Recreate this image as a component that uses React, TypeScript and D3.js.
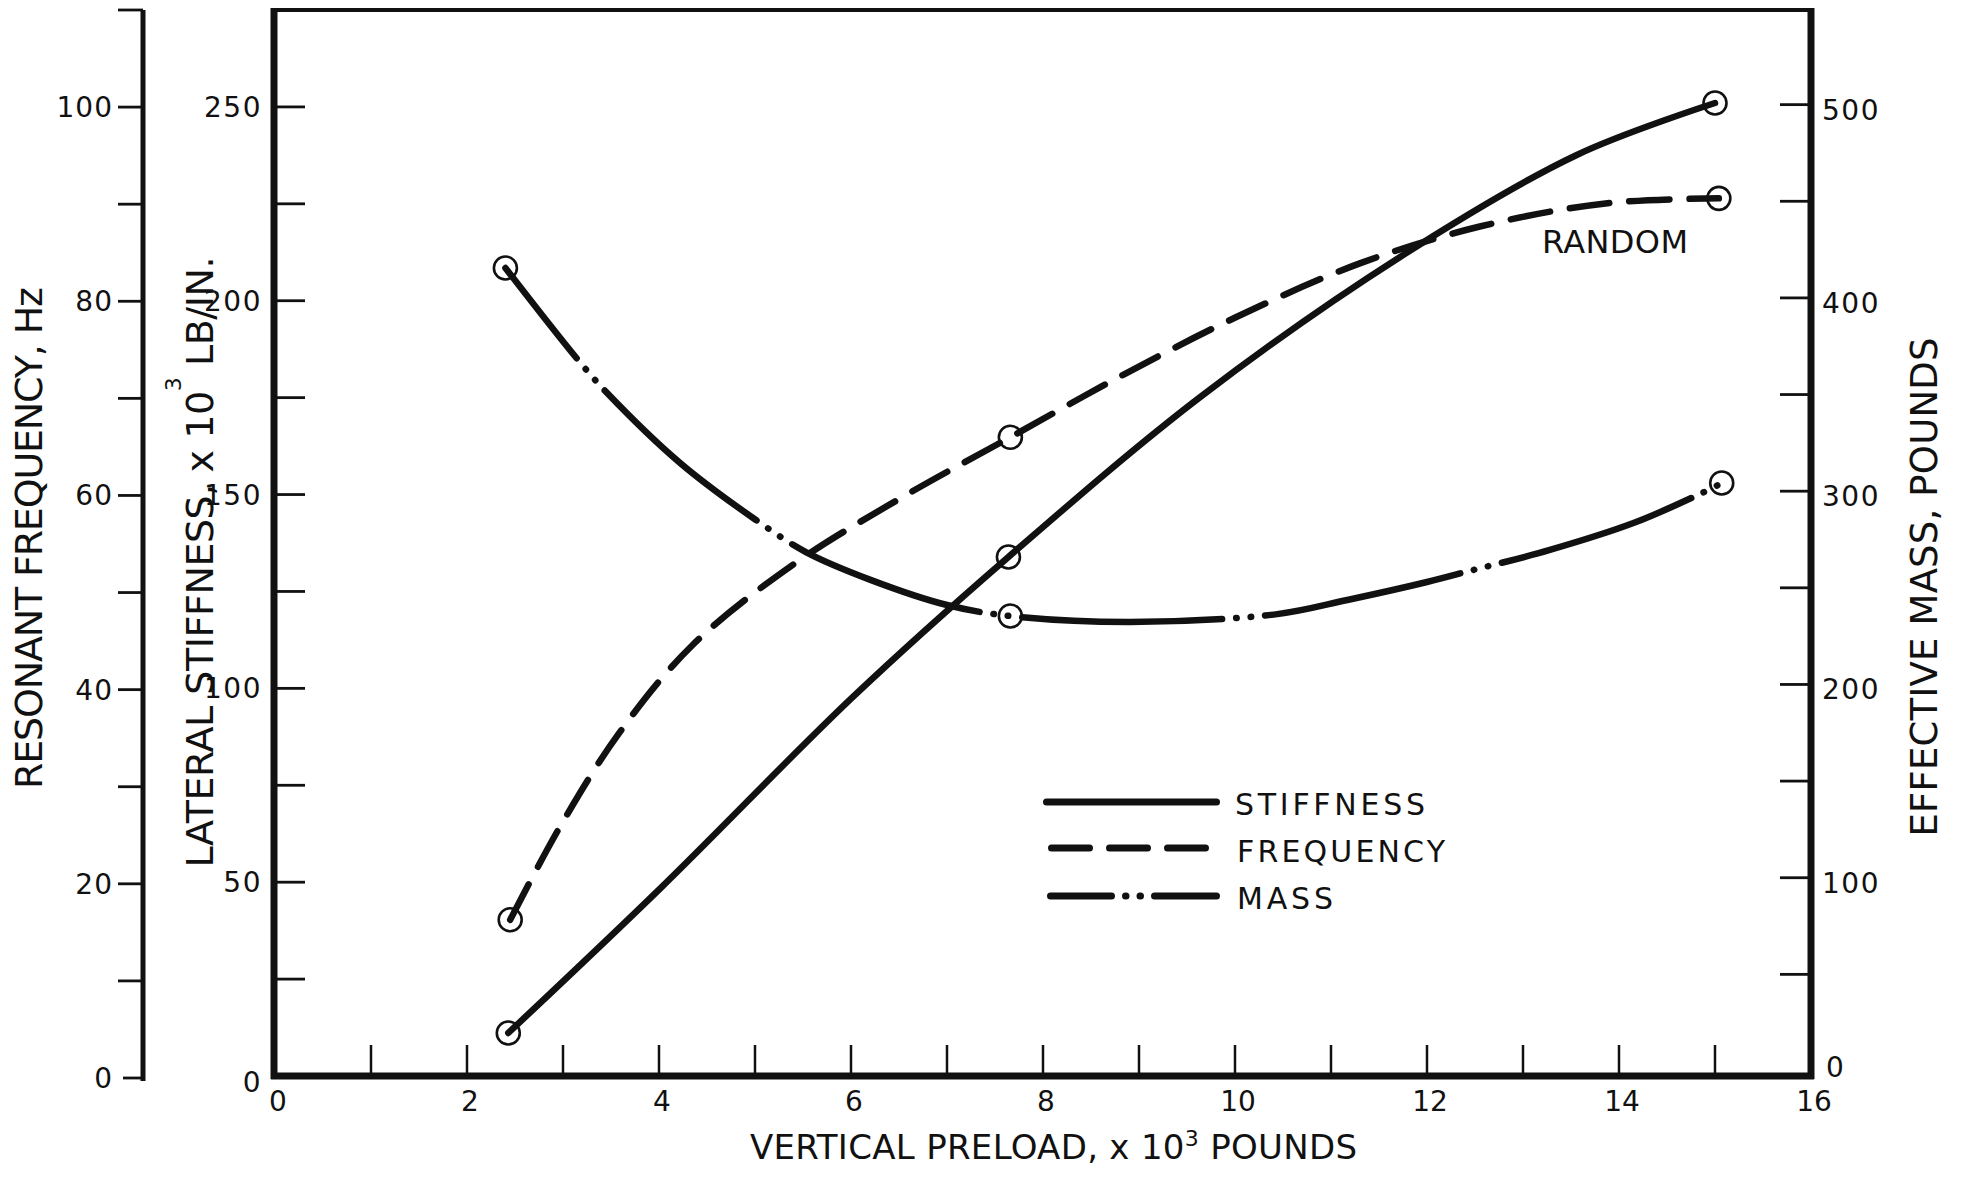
import React from "react";
import * as d3 from "d3";

// ---- data (preload in 10^3 lb) ----
// Measured test points (circled)
const stiffnessPoints = [
  { preload: 2.43, value: 11.1 },
  { preload: 7.64, value: 133.9 },
  { preload: 15.0, value: 251.0 },
];
const frequencyPoints = [
  { preload: 2.45, value: 16.3 },
  { preload: 7.66, value: 66.0 },
  { preload: 15.04, value: 90.6 },
];
const massPoints = [
  { preload: 2.4, value: 415.5 },
  { preload: 7.66, value: 235.4 },
  { preload: 15.07, value: 304.2 },
];

// Faired curves through the test points
const stiffnessCurve = [
  { preload: 2.43, value: 11.1 },
  { preload: 4.03, value: 48.8 },
  { preload: 6.02, value: 97.8 },
  { preload: 7.64, value: 133.9 },
  { preload: 9.64, value: 175.2 },
  { preload: 11.72, value: 211.3 },
  { preload: 13.56, value: 237.6 },
  { preload: 15.0, value: 251.0 },
];
const frequencyCurve = [
  { preload: 2.45, value: 16.3 },
  { preload: 2.97, value: 25.9 },
  { preload: 3.59, value: 35.6 },
  { preload: 4.35, value: 44.6 },
  { preload: 5.4, value: 52.9 },
  { preload: 6.53, value: 59.8 },
  { preload: 7.66, value: 66.0 },
  { preload: 8.83, value: 72.4 },
  { preload: 10.02, value: 78.4 },
  { preload: 11.3, value: 83.9 },
  { preload: 12.55, value: 87.7 },
  { preload: 13.88, value: 90.1 },
  { preload: 15.04, value: 90.6 },
];
const massCurve = [
  { preload: 2.4, value: 415.5 },
  { preload: 3.14, value: 368.9 },
  { preload: 3.46, value: 350.8 },
  { preload: 4.22, value: 314.6 },
  { preload: 5.01, value: 285.1 },
  { preload: 5.53, value: 268.5 },
  { preload: 6.21, value: 254.0 },
  { preload: 7.0, value: 241.1 },
  { preload: 7.66, value: 235.4 },
  { preload: 8.91, value: 232.3 },
  { preload: 10.44, value: 236.4 },
  { preload: 11.17, value: 243.7 },
  { preload: 12.0, value: 253.0 },
  { preload: 12.48, value: 259.2 },
  { preload: 13.28, value: 269.6 },
  { preload: 14.15, value: 283.5 },
  { preload: 14.82, value: 298.0 },
  { preload: 15.07, value: 304.2 },
];

// ---- axis ticks and labels ----
const preloadTicks = [1, 2, 3, 4, 5, 6, 7, 8, 9, 10, 11, 12, 13, 14, 15];
const preloadLabels = [0, 2, 4, 6, 8, 10, 12, 14, 16];
const stiffnessTicks = [25, 50, 75, 100, 125, 150, 175, 200, 225, 250];
const stiffnessLabels = [0, 50, 100, 150, 200, 250];
const frequencyTicks = [0, 10, 20, 30, 40, 50, 60, 70, 80, 90, 100, 110];
const frequencyLabels = [0, 20, 40, 60, 80, 100];
const massTicks = [50, 100, 150, 200, 250, 300, 350, 400, 450, 500];
const massLabels = [0, 100, 200, 300, 400, 500];

const INK = "#111";
const FONT = "'DejaVu Sans', sans-serif";

// ---- plot geometry ----
const FRAME = { left: 275, right: 1811, top: 10, bottom: 1076 };
const FREQ_AXIS_X = 143;

const x = d3.scaleLinear().domain([0, 16]).range([FRAME.left, FRAME.right]);
const yStiffness = d3.scaleLinear().domain([0, 275]).range([FRAME.bottom, FRAME.top]);
const yFrequency = d3.scaleLinear().domain([0, 110]).range([1078, FRAME.top]);
const yMass = d3.scaleLinear().domain([0, 550]).range([1071, 8]);

type Pt = { preload: number; value: number };

const curvePath = (data: Pt[], y: d3.ScaleLinear<number, number>) =>
  d3
    .line<Pt>()
    .x((d) => x(d.preload))
    .y((d) => y(d.value))
    .curve(d3.curveCatmullRom.alpha(0.5))(data) || "";

const CURVE_WIDTH = 6.5;
const FREQ_DASH = "40 20";
const MASS_DASH = "200 14 0.5 14 0.5 14";

export default function App() {
  const markers = (pts: Pt[], y: d3.ScaleLinear<number, number>, key: string) =>
    pts.map((d, i) => (
      <circle
        key={`${key}-${i}`}
        cx={x(d.preload)}
        cy={y(d.value)}
        r={11.5}
        fill="none"
        stroke={INK}
        strokeWidth={2.6}
      />
    ));

  return (
    <svg
      width={1965}
      height={1177}
      viewBox="0 0 1965 1177"
      style={{ display: "block", position: "absolute", left: 0, top: 0, background: "#fff" }}
      fontFamily={FONT}
    >
      <rect x={0} y={0} width={1965} height={1177} fill="#fff" />

      {/* resonant frequency axis (outer left) */}
      <line x1={FREQ_AXIS_X} x2={FREQ_AXIS_X} y1={FRAME.top} y2={1081} stroke={INK} strokeWidth={5} />
      {frequencyTicks.map((t) => (
        <line
          key={`ft${t}`}
          x1={FREQ_AXIS_X - (t === 0 ? 20 : 25)}
          x2={FREQ_AXIS_X}
          y1={yFrequency(t)}
          y2={yFrequency(t)}
          stroke={INK}
          strokeWidth={2.8}
        />
      ))}
      {frequencyLabels.map((t) => (
        <text
          key={`fl${t}`}
          x={113}
          y={yFrequency(t) + 10}
          textAnchor="end"
          fontSize={28}
          letterSpacing={1}
          fill={INK}
        >
          {t}
        </text>
      ))}

      {/* frame */}
      <line x1={FRAME.left - 1} x2={FRAME.right} y1={FRAME.top} y2={FRAME.top} stroke={INK} strokeWidth={4} />
      <line x1={FRAME.left - 1} x2={FRAME.left - 1} y1={FRAME.top - 2} y2={FRAME.bottom + 3} stroke={INK} strokeWidth={7} />
      <line x1={FRAME.right} x2={FRAME.right} y1={FRAME.top - 2} y2={FRAME.bottom + 3} stroke={INK} strokeWidth={7} />
      <line x1={FRAME.left - 4} x2={FRAME.right + 3} y1={FRAME.bottom} y2={FRAME.bottom} stroke={INK} strokeWidth={7} />

      {/* stiffness ticks (inside, left) */}
      {stiffnessTicks.map((t) => (
        <line
          key={`st${t}`}
          x1={FRAME.left}
          x2={FRAME.left + 30}
          y1={yStiffness(t)}
          y2={yStiffness(t)}
          stroke={INK}
          strokeWidth={2.8}
        />
      ))}
      {stiffnessLabels.map((t) => (
        <text
          key={`sl${t}`}
          x={262}
          y={yStiffness(t) + (t === 0 ? 16 : 10)}
          textAnchor="end"
          fontSize={28}
          letterSpacing={1.5}
          fill={INK}
        >
          {t}
        </text>
      ))}

      {/* mass ticks (inside, right) */}
      {massTicks.map((t) => (
        <line
          key={`mt${t}`}
          x1={FRAME.right - 31}
          x2={FRAME.right}
          y1={yMass(t)}
          y2={yMass(t)}
          stroke={INK}
          strokeWidth={2.8}
        />
      ))}
      {massLabels.map((t) => (
        <text
          key={`ml${t}`}
          x={t === 0 ? 1826 : 1822}
          y={yMass(t) + (t === 0 ? 6 : 15)}
          textAnchor="start"
          fontSize={28}
          letterSpacing={1.5}
          fill={INK}
        >
          {t}
        </text>
      ))}

      {/* preload ticks (inside, bottom) */}
      {preloadTicks.map((t) => (
        <line
          key={`pt${t}`}
          x1={x(t)}
          x2={x(t)}
          y1={FRAME.bottom}
          y2={FRAME.bottom - 31}
          stroke={INK}
          strokeWidth={2.5}
        />
      ))}
      {preloadLabels.map((t) => (
        <text
          key={`pl${t}`}
          x={x(t) + 3}
          y={1111}
          textAnchor="middle"
          fontSize={28}
          fill={INK}
        >
          {t}
        </text>
      ))}

      {/* axis titles */}
      <text
        transform="translate(42,538) rotate(-90)"
        textAnchor="middle"
        fontSize={38}
        textLength={502}
        lengthAdjust="spacing"
        fill={INK}
      >
        RESONANT FREQUENCY, Hz
      </text>
      <text
        transform="translate(213,562) rotate(-90)"
        textAnchor="middle"
        fontSize={38}
        textLength={611}
        lengthAdjust="spacing"
        fill={INK}
      >
        LATERAL STIFFNESS, x 10
        <tspan fontSize={22} dy={-32}>3</tspan>
        <tspan dy={32}> LB/IN.</tspan>
      </text>
      <text
        transform="translate(1937,587) rotate(-90)"
        textAnchor="middle"
        fontSize={37}
        textLength={499}
        lengthAdjust="spacing"
        fill={INK}
      >
        EFFECTIVE MASS, POUNDS
      </text>
      <text
        x={1053.5}
        y={1159}
        textAnchor="middle"
        fontSize={34}
        textLength={607}
        lengthAdjust="spacing"
        fill={INK}
      >
        VERTICAL PRELOAD, x 10
        <tspan fontSize={22} dy={-13}>3</tspan>
        <tspan dy={13}> POUNDS</tspan>
      </text>

      {/* curves */}
      <path
        d={curvePath(stiffnessCurve, yStiffness)}
        fill="none"
        stroke={INK}
        strokeWidth={CURVE_WIDTH}
        strokeLinecap="round"
        strokeLinejoin="round"
      />
      <path
        d={curvePath(frequencyCurve, yFrequency)}
        fill="none"
        stroke={INK}
        strokeWidth={CURVE_WIDTH}
        strokeLinecap="round"
        strokeDasharray={FREQ_DASH}
      />
      <path
        d={curvePath(massCurve, yMass)}
        fill="none"
        stroke={INK}
        strokeWidth={CURVE_WIDTH}
        strokeLinecap="round"
        strokeDasharray={MASS_DASH}
        strokeDashoffset={85}
      />

      {markers(stiffnessPoints, yStiffness, "s")}
      {markers(frequencyPoints, yFrequency, "f")}
      {markers(massPoints, yMass, "m")}

      <text x={1542} y={253} fontSize={32} textLength={146} lengthAdjust="spacing" fill={INK}>
        RANDOM
      </text>

      {/* legend */}
      <g>
        <line x1={1046.5} x2={1216.5} y1={802} y2={802} stroke={INK} strokeWidth={7} strokeLinecap="round" />
        <line
          x1={1051.5}
          x2={1209.5}
          y1={848}
          y2={848}
          stroke={INK}
          strokeWidth={7}
          strokeLinecap="round"
          strokeDasharray="38 20"
        />
        <line
          x1={1050.5}
          x2={1216.5}
          y1={896}
          y2={896}
          stroke={INK}
          strokeWidth={7}
          strokeLinecap="round"
          strokeDasharray="61 14 0.5 14 0.5 14 62 100"
        />
        <text x={1235} y={815} fontSize={30} textLength={190} lengthAdjust="spacing" fill={INK}>
          STIFFNESS
        </text>
        <text x={1237} y={862} fontSize={30} textLength={208} lengthAdjust="spacing" fill={INK}>
          FREQUENCY
        </text>
        <text x={1237} y={909} fontSize={30} textLength={96} lengthAdjust="spacing" fill={INK}>
          MASS
        </text>
      </g>
    </svg>
  );
}
